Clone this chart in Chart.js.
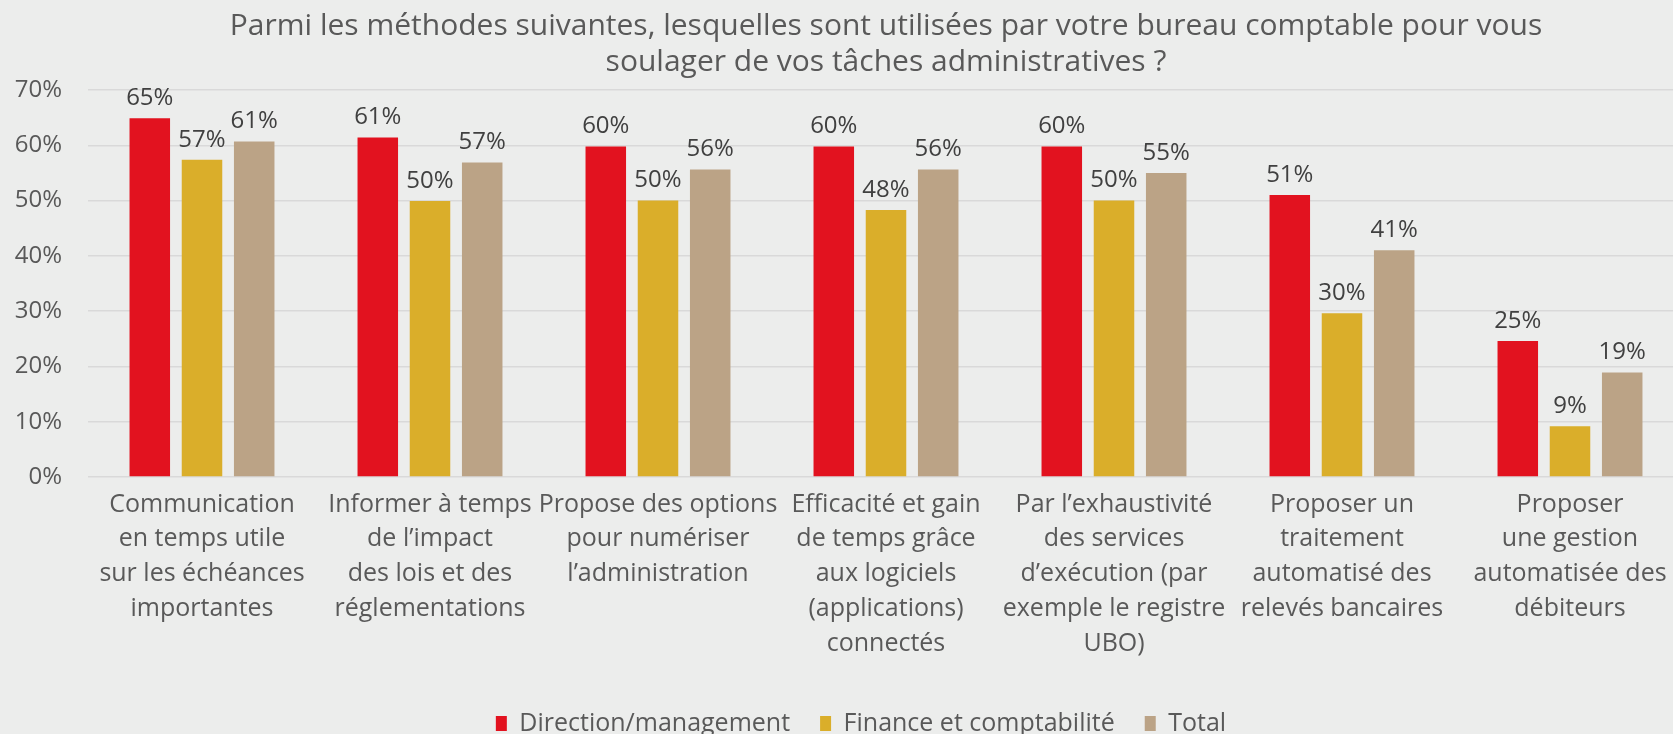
<!DOCTYPE html>
<html lang="fr">
<head>
    <meta charset="UTF-8">
    <title>Méthodes du bureau comptable</title>
    <script src="https://cdn.jsdelivr.net/npm/chart.js"></script>
    <style>
        html, body { margin: 0; padding: 0; background: #ecedec; overflow: hidden; }
        #wrap { width: 1684px; height: 734px; }
    </style>
</head>
<body>
    <div id="wrap"><canvas id="methodsChart" width="1684" height="734"></canvas></div>
    <script>
        // Catégories (une liste de lignes par étiquette)
        const categories = [
            ['Communication', 'en temps utile', 'sur les échéances', 'importantes'],
            ['Informer à temps', 'de l’impact', 'des lois et des', 'réglementations'],
            ['Propose des options', 'pour numériser', 'l’administration'],
            ['Efficacité et gain', 'de temps grâce', 'aux logiciels', '(applications)', 'connectés'],
            ['Par l’exhaustivité', 'des services', 'd’exécution (par', 'exemple le registre', 'UBO)'],
            ['Proposer un', 'traitement', 'automatisé des', 'relevés bancaires'],
            ['Proposer', 'une gestion', 'automatisée des', 'débiteurs']
        ];

        // Valeurs (%)
        const direction = [64.9, 61.4, 59.8, 59.8, 59.8, 51.0, 24.6];
        const finance = [57.4, 49.9, 50.0, 48.3, 50.0, 29.6, 9.2];
        const total = [60.7, 56.9, 55.6, 55.6, 55.0, 41.0, 18.9];

        const seriesNames = ['Direction/management', 'Finance et comptabilité', 'Total'];
        const yTicks = [0, 10, 20, 30, 40, 50, 60, 70];

        const FONT = "'Open Sans', sans-serif";
        const TXT = '#595959';

        // petites étiquettes au-dessus des barres
        const valueLabels = {
            id: 'valueLabels',
            afterDatasetsDraw(chart) {
                const ctx = chart.ctx;
                ctx.save();
                ctx.font = '24px ' + FONT;
                ctx.fillStyle = '#404040';
                ctx.textAlign = 'center';
                ctx.textBaseline = 'bottom';
                chart.data.datasets.forEach((ds, i) => {
                    chart.getDatasetMeta(i).data.forEach((bar, j) => {
                        ctx.fillText(Math.round(ds.data[j]) + '%', bar.x, bar.y - 8);
                    });
                });
                ctx.restore();
            }
        };

        // la légende est un peu décalée (droite / bas) dans l'original
        const legendShift = {
            id: 'legendShift',
            afterLayout(chart) {
                const lg = chart.legend;
                if (!lg) return;
                lg.left += 19; lg.right += 19;
                lg.top += 12; lg.bottom += 12;
            }
        };

        const ctx = document.getElementById('methodsChart').getContext('2d');
        new Chart(ctx, {
            type: 'bar',
            data: {
                labels: categories,
                datasets: [
                    { label: seriesNames[0], data: direction, backgroundColor: '#e2121f' },
                    { label: seriesNames[1], data: finance, backgroundColor: '#daae2a' },
                    { label: seriesNames[2], data: total, backgroundColor: '#bba386' }
                ]
            },
            options: {
                responsive: false,
                animation: false,
                categoryPercentage: 0.687,
                barPercentage: 0.776,
                layout: { padding: 0 },
                plugins: {
                    title: {
                        display: true,
                        fullSize: false,
                        text: ['Parmi les méthodes suivantes, lesquelles sont utilisées par votre bureau comptable pour vous',
                               'soulager de vos tâches administratives ?'],
                        color: TXT,
                        font: { family: FONT, size: 30, weight: 'normal', lineHeight: 1.2 },
                        padding: { top: 8, bottom: 10 }
                    },
                    legend: {
                        position: 'bottom',
                        labels: {
                            color: TXT,
                            font: { family: FONT, size: 25 },
                            boxWidth: 11,
                            boxHeight: 15,
                            padding: 30
                        }
                    },
                    tooltip: { enabled: false }
                },
                scales: {
                    x: {
                        grid: { display: false },
                        border: { display: false },
                        ticks: {
                            color: TXT,
                            font: { family: FONT, size: 25, lineHeight: 1.39 },
                            autoSkip: false,
                            maxRotation: 0,
                            padding: 2
                        },
                        afterFit(scale) { scale.height = 192; }
                    },
                    y: {
                        min: 0,
                        max: 70,
                        border: { display: false },
                        grid: { color: '#d9d9d9', lineWidth: 1.5, drawTicks: false },
                        afterBuildTicks(scale) { scale.ticks = yTicks.map(v => ({ value: v })); },
                        ticks: {
                            color: TXT,
                            font: { family: FONT, size: 24 },
                            padding: 26,
                            callback: v => v + '%'
                        },
                        afterFit(scale) { scale.width = 88; }
                    }
                }
            },
            plugins: [valueLabels, legendShift]
        });
    </script>
</body>
</html>
